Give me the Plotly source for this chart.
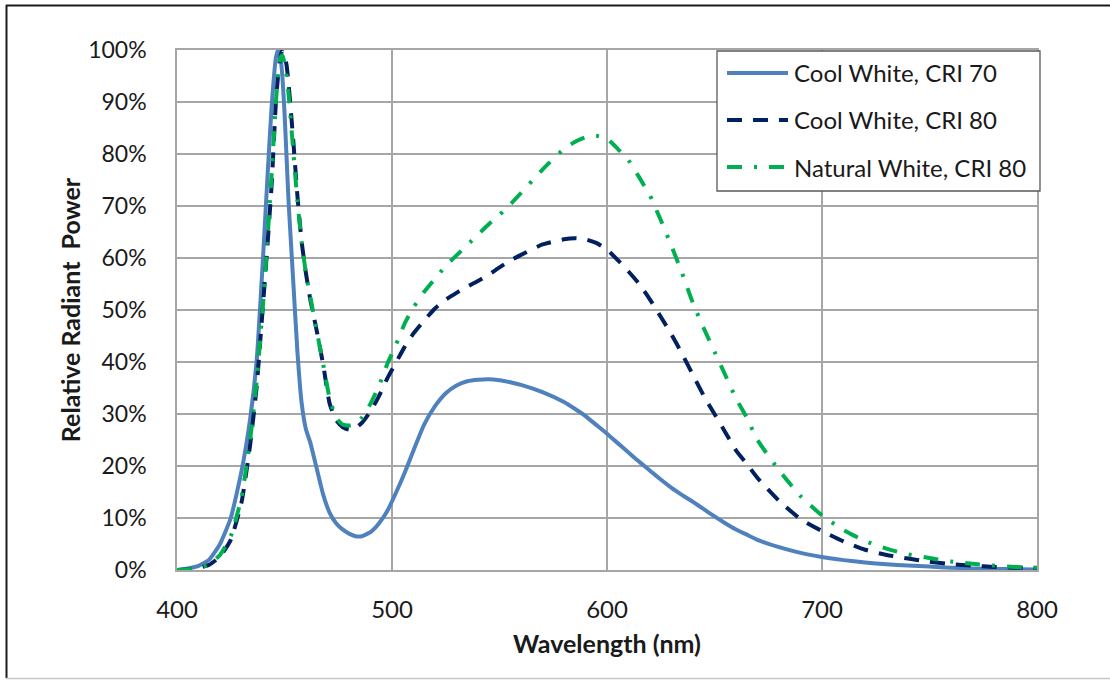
import plotly.graph_objects as go

# Wavelength grid (nm), denser around the blue pump peak
wavelength = [400, 405, 410, 415, 420, 425, 430, 434, 437, 440, 442, 444, 446, 447, 448,
              449, 450, 451, 452, 454, 456, 458, 460, 462, 465, 468, 471, 474, 477, 480,
              483, 486, 490, 494, 498, 502, 506, 510, 515, 520, 525, 530, 535, 540, 545,
              550, 555, 560, 570, 580, 585, 590, 595, 600, 605, 610, 615, 620, 625, 630,
              635, 640, 645, 650, 655, 660, 665, 670, 680, 690, 700, 710, 720, 730, 740,
              750, 760, 770, 780, 790, 800]

# Relative radiant power (%)
cool_white_cri70 = [0.0, 0.3, 0.8, 2.0, 5.0, 10.0, 19.0, 29.0, 40.0, 60.0, 75.0, 89.0, 98.5, 100.0, 99.0,
                    95.0, 88.0, 79.0, 70.0, 56.0, 42.0, 32.0, 27.0, 24.5, 19.5, 14.5, 11.0, 9.0, 7.8, 7.0,
                    6.5, 6.5, 7.3, 9.0, 11.5, 15.0, 18.8, 23.0, 28.0, 31.5, 34.0, 35.5, 36.3, 36.6, 36.7,
                    36.5, 36.1, 35.6, 34.2, 32.3, 31.0, 29.6, 27.9, 26.2, 24.4, 22.6, 20.8, 19.1, 17.4, 15.8,
                    14.4, 13.1, 11.7, 10.3, 9.0, 7.8, 6.8, 5.8, 4.4, 3.3, 2.5, 1.9, 1.45, 1.1, 0.85,
                    0.65, 0.45, 0.3, 0.2, 0.15, 0.1]

cool_white_cri80 = [0.0, 0.1, 0.4, 1.0, 2.6, 5.8, 13.0, 24.0, 35.0, 51.0, 62.0, 74.0, 90.0, 95.0, 98.5,
                    100.0, 99.0, 97.0, 93.0, 83.0, 72.0, 63.0, 57.0, 52.0, 46.0, 39.5, 32.0, 28.8, 27.5, 27.0,
                    27.3, 28.3, 30.5, 33.5, 37.0, 40.0, 43.0, 45.5, 48.0, 50.3, 52.0, 53.3, 54.5, 55.6, 56.8,
                    58.2, 59.5, 60.6, 62.6, 63.6, 63.8, 63.6, 62.9, 61.6, 59.6, 57.4, 55.0, 52.0, 48.7, 45.3,
                    41.5, 37.5, 33.5, 30.0, 26.5, 23.0, 20.4, 17.7, 13.3, 9.8, 7.5, 5.5, 3.9, 2.9, 2.2,
                    1.6, 1.1, 0.85, 0.6, 0.45, 0.35]

natural_white_cri80 = [0.0, 0.1, 0.4, 1.1, 2.9, 6.5, 14.0, 25.0, 36.0, 51.0, 63.0, 76.0, 90.0, 95.0, 98.5,
                       99.0, 97.5, 95.0, 91.0, 81.0, 71.0, 63.0, 57.0, 52.5, 46.0, 39.5, 33.0, 29.3, 28.0, 27.8,
                       28.1, 29.3, 32.0, 35.5, 39.8, 43.5, 47.5, 50.5, 53.5, 56.0, 58.5, 60.5, 62.5, 64.5, 66.5,
                       68.3, 70.3, 72.5, 77.0, 81.0, 82.3, 83.2, 83.5, 82.9, 81.0, 78.8, 75.5, 72.0, 67.3, 62.3,
                       57.0, 51.3, 46.5, 42.0, 37.5, 33.0, 29.3, 25.0, 19.2, 14.2, 10.5, 7.7, 5.6, 4.1, 3.0,
                       2.3, 1.65, 1.2, 0.85, 0.6, 0.45]

series_names = ["Cool White, CRI 70", "Cool White, CRI 80", "Natural White, CRI 80"]
series_values = [cool_white_cri70, cool_white_cri80, natural_white_cri80]
series_colors = ["#4F81BD", "#002060", "#00B050"]
series_dash = ["solid", "15px,11px", "15px,12px,3px,12px"]

y_ticks = list(range(0, 101, 10))
y_tick_labels = [f"{v}%" for v in y_ticks]
x_ticks = [400, 500, 600, 700, 800]

W, H = 1110, 680
PL, PR, PT, PB = 177, 1037, 50, 570  # plot area in pixels
FONT = "Lato"
TXT = "#1a1a1a"
GRID = "#A6A6A6"

fig = go.Figure()
for name, vals, col, dash in zip(series_names, series_values, series_colors, series_dash):
    fig.add_trace(go.Scatter(
        x=wavelength, y=vals, name=name, mode="lines",
        line=dict(color=col, width=4, dash=dash, shape="spline", smoothing=0.5),
        showlegend=False,
    ))


def px_x(p):
    return (p - PL) / (PR - PL)


def px_y(p):
    return (PB - p) / (PB - PT)


shapes = []
annotations = []

# legend box
shapes.append(dict(type="rect", xref="paper", yref="paper", layer="above",
                   x0=px_x(717), x1=px_x(1040), y0=px_y(191), y1=px_y(51),
                   fillcolor="white", line=dict(color="#595959", width=1.3)))
row_y = [73, 120, 167]
for name, col, dash, ry in zip(series_names, series_colors, series_dash, row_y):
    shapes.append(dict(type="line", xref="paper", yref="paper", layer="above",
                       x0=px_x(727), x1=px_x(788), y0=px_y(ry), y1=px_y(ry),
                       line=dict(color=col, width=4, dash=dash)))
    annotations.append(dict(xref="paper", yref="paper", x=px_x(792), y=px_y(ry),
                            xanchor="left", yanchor="middle", showarrow=False,
                            text=name, font=dict(family=FONT, size=24, color=TXT)))

# outer frame (top/left dark, bottom light)
shapes.append(dict(type="line", xref="paper", yref="paper", x0=px_x(6), x1=px_x(1110),
                   y0=px_y(5.5), y1=px_y(5.5), line=dict(color=TXT, width=2)))
shapes.append(dict(type="line", xref="paper", yref="paper", x0=px_x(6.5), x1=px_x(6.5),
                   y0=px_y(5), y1=px_y(678), line=dict(color=TXT, width=2)))
shapes.append(dict(type="line", xref="paper", yref="paper", x0=px_x(6), x1=px_x(1110),
                   y0=px_y(678.5), y1=px_y(678.5), line=dict(color="#C8C8C8", width=1.5)))

fig.update_layout(
    width=W, height=H,
    margin=dict(l=PL, r=W - PR, t=PT, b=H - PB),
    paper_bgcolor="white", plot_bgcolor="white",
    showlegend=False,
    font=dict(family=FONT, color=TXT),
    shapes=shapes, annotations=annotations,
    xaxis=dict(range=[400, 800], tickmode="array", tickvals=x_ticks,
               ticktext=[str(v) for v in x_ticks],
               showgrid=True, gridcolor=GRID, gridwidth=1.5,
               showline=True, linecolor=GRID, linewidth=1.5, mirror=True, zeroline=False,
               ticks="", ticklabelstandoff=17, tickfont=dict(family=FONT, size=24, color=TXT),
               title=dict(text="<b>Wavelength (nm)</b>", standoff=14,
                          font=dict(family=FONT, size=25, color=TXT))),
    yaxis=dict(range=[0, 100], tickmode="array", tickvals=y_ticks, ticktext=y_tick_labels,
               showgrid=True, gridcolor=GRID,
               gridwidth=1.5, showline=True, linecolor=GRID, linewidth=1.5, mirror=True,
               zeroline=False, ticks="", ticklabelstandoff=24,
               tickfont=dict(family=FONT, size=23, color=TXT),
               title=dict(text="<b>Relative Radiant  Power</b>", standoff=0,
                          font=dict(family=FONT, size=25, color=TXT))),
)

fig.write_html("out.html")
